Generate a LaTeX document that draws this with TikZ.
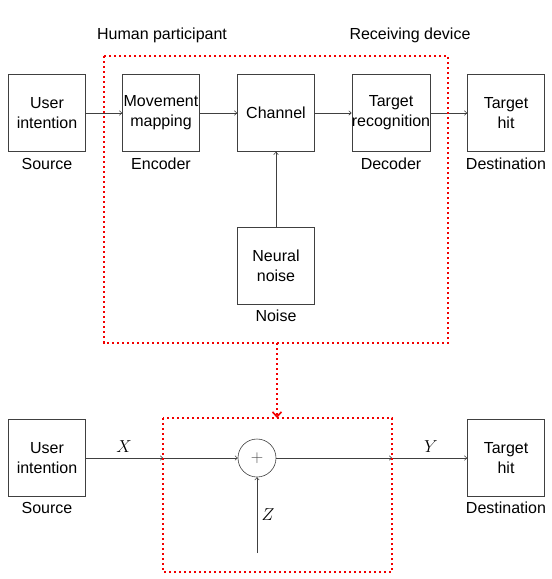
\documentclass[tikz,border=0pt]{standalone}
\usepackage{fontspec}
\setmainfont{Liberation Sans}
\usetikzlibrary{arrows.meta}
\begin{document}
\begin{tikzpicture}[x=1pt,y=-1pt,
  blk/.style={draw=black!75, line width=0.7pt, minimum width=77pt, minimum height=77pt, inner sep=0pt, align=center, font=\fontsize{16}{20}\selectfont},
  lbl/.style={font=\fontsize{16}{20}\selectfont, inner sep=0pt},
  conn/.style={draw=black!75, line width=0.6pt, -{To[length=3pt,width=5pt]}},
  redbox/.style={draw=red!95!black, line width=2.4pt, dash pattern=on 2.4pt off 2.6pt}]
\useasboundingbox (0,0) rectangle (552,579);
% top row
\node[blk] (ui) at (47,113) {User\\intention};
\node[blk] (mm) at (161,113) {Movement\\mapping};
\node[blk] (ch) at (276,113) {Channel};
\node[blk] (tr) at (391,113) {Target\\recognition};
\node[blk] (th) at (506,113) {Target\\hit};
\node[blk] (nn) at (276,266) {Neural\\noise};
\node[lbl] (l1) at (47,164) {Source};
\node[lbl] (l2) at (161,164) {Encoder};
\node[lbl] (l3) at (391,164) {Decoder};
\node[lbl] (l4) at (506,164) {Destination};
\node[lbl] (l5) at (276,316) {Noise};
\node[lbl] (hp) at (162,35) {Human participant};
\node[lbl] (rd) at (410,35) {Receiving device};
\draw[conn] (ui) -- (mm);
\draw[conn] (mm) -- (ch);
\draw[conn] (ch) -- (tr);
\draw[conn] (tr) -- (th);
\draw[conn] (nn) -- (ch);
\draw[redbox] (104,56) rectangle (448,343);
% bottom row
\node[blk] (ui2) at (47,458) {User\\intention};
\node[blk] (th2) at (506,458) {Target\\hit};
\node[lbl] (s2) at (47,508) {Source};
\node[lbl] (d2) at (506,508) {Destination};
\node[draw=black!75, line width=0.6pt, circle, minimum size=38pt, inner sep=0pt, text=black!70, font=\fontsize{16}{20}\selectfont] (sum) at (257,458) {$+$};
\coordinate (bl) at (163,458);
\coordinate (br) at (392,458);
\coordinate (zs) at (257,553);
\draw[conn] (ui2) -- (bl);
\draw[conn] (bl) -- (sum);
\draw[conn] (sum) -- (br);
\draw[conn] (br) -- (th2);
\draw[conn] (zs) -- (sum);
\node[lbl] (x) at (124,447) {$X$};
\node[lbl] (y) at (431,447) {$Y$};
\node[lbl] (z) at (268,515) {$Z$};
\draw[redbox] (163,418) rectangle (392,572);
\coordinate (da) at (277,343);
\coordinate (db) at (277,418);
\draw[redbox, -{Straight Barb[length=5pt,width=9pt,line width=1.6pt]}] (da) -- (db);
\end{tikzpicture}
\end{document}
